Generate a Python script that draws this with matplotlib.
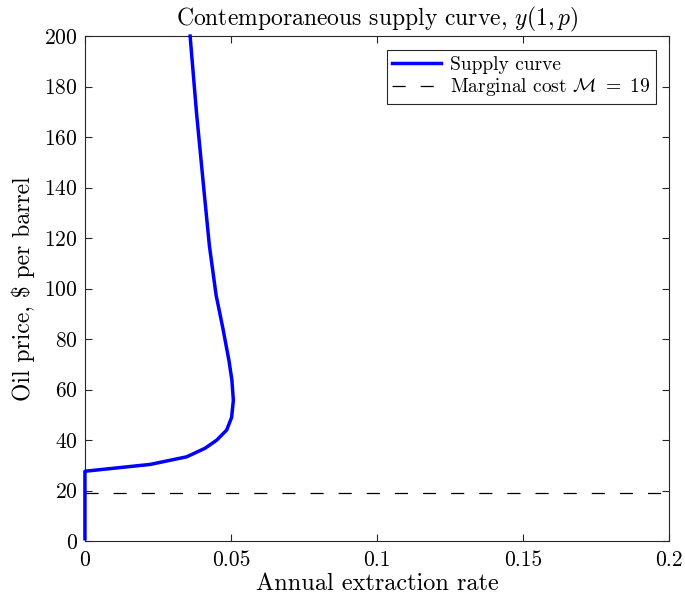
import numpy as np
import matplotlib
matplotlib.use('Agg')
import matplotlib.pyplot as plt

plt.rcParams['font.family'] = 'serif'
plt.rcParams['font.serif'] = ['cmr10', 'DejaVu Serif']
plt.rcParams['mathtext.fontset'] = 'cm'
plt.rcParams['axes.unicode_minus'] = False
plt.rcParams['axes.formatter.use_mathtext'] = True

# supply curve: extraction rate vs oil price
price = [1, 27.7, 30.4, 33.4, 36.8, 40, 44, 49, 55.8, 63.8, 71.5, 84.4, 97.4,
         117, 137, 169.5, 200]
rate = [0.0, 0.0, 0.0223, 0.0348, 0.0411, 0.0451, 0.0485, 0.0502, 0.0508,
        0.0503, 0.0493, 0.0472, 0.0449, 0.0426, 0.0409, 0.0382, 0.0360]
marginal_cost = 19

xticks = [0, 0.05, 0.1, 0.15, 0.2]
xticklabels = ['0', '0.05', '0.1', '0.15', '0.2']
yticks = list(range(0, 201, 20))

fig = plt.figure(figsize=(6.85, 6.02), dpi=100)
ax = fig.add_axes([0.124, 0.101, 0.853, 0.839])

ax.plot(rate, price, color='blue', linewidth=2.5, label='Supply curve',
        solid_joinstyle='round', clip_on=False, zorder=3)
ax.axhline(marginal_cost, color='black', linewidth=0.9, dashes=(10.5, 12),
           label=r'Marginal cost $\mathcal{M}\ =\ 19$')

ax.set_xlim(0, 0.2)
ax.set_ylim(0, 200)
ax.set_xticks(xticks)
ax.set_xticklabels(xticklabels)
ax.set_yticks(yticks)
ax.tick_params(direction='in', length=5, labelsize=15.5, colors='#262626',
               top=True, right=True, width=0.8, pad=5)
ax.tick_params(axis='x', pad=7)
for lab in ax.get_xticklabels() + ax.get_yticklabels():
    lab.set_color('black')
for s in ax.spines.values():
    s.set_color('#262626')
    s.set_linewidth(0.8)

ax.set_xlabel('Annual extraction rate', fontsize=17.5, labelpad=2)
ax.set_ylabel(r'Oil price, \$ per barrel', fontsize=17, labelpad=7)
ax.set_title(r'Contemporaneous supply curve, $y(1,p)$', fontsize=17, pad=8)

leg = ax.legend(loc='upper right', fontsize=14, fancybox=False, framealpha=1,
                edgecolor='#262626', handlelength=2.5, borderpad=0.3,
                labelspacing=0.15, handletextpad=0.45, borderaxespad=0.7)
leg.get_frame().set_linewidth(0.8)

fig.savefig('out.png', dpi=100)
